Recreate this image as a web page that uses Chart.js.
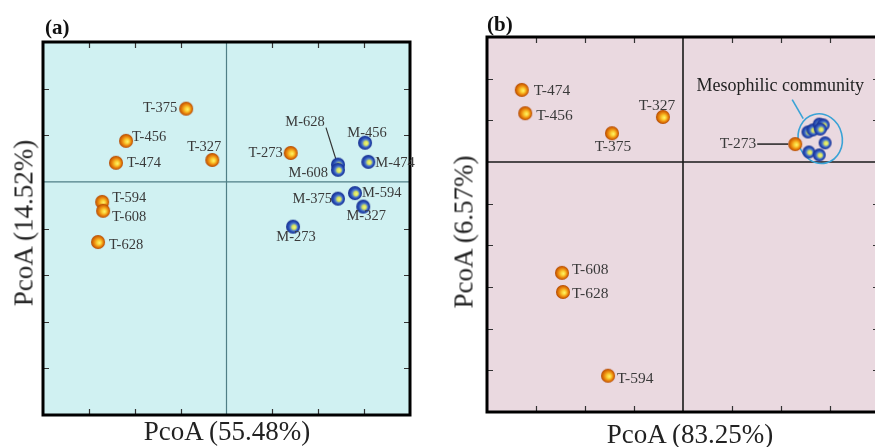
<!DOCTYPE html>
<html>
<head>
<meta charset="utf-8">
<script src="https://cdn.jsdelivr.net/npm/chart.js@4"></script>
<style>
  html,body{margin:0;padding:0;background:#fff}
  #wrap{position:relative;width:875px;height:447px;overflow:hidden;font-family:"Liberation Serif","Times New Roman",serif;color:#1a1a1a}
  canvas{position:absolute;top:0}
  .t{position:absolute;white-space:nowrap;line-height:1}
  .panel{font-weight:bold;font-size:21px;color:#111}
  .ax{font-size:27px;color:#222}
  .rot{transform:translate(-50%,-50%) rotate(-90deg)}
  .hc{transform:translate(-50%,0)}
</style>
</head>
<body>
<div id="wrap">
  <canvas id="chartA" width="440" height="447" style="left:0"></canvas>
  <canvas id="chartB" width="440" height="447" style="left:440px"></canvas>
  <div class="t panel" style="left:45px;top:17px">(a)</div>
  <div class="t panel" style="left:487px;top:14px">(b)</div>
  <div class="t ax hc" style="left:227px;top:418px">PcoA (55.48%)</div>
  <div class="t ax hc" style="left:690px;top:421px">PcoA (83.25%)</div>
  <div class="t ax rot" style="left:24px;top:223px">PcoA (14.52%)</div>
  <div class="t ax rot" style="left:464px;top:232px">PcoA (6.57%)</div>
</div>
<script>
// panel (a) - all samples
const tLabelsA = ['T-375','T-456','T-474','T-327','T-273','T-594','T-608','T-628'];
const tXA = [-0.88,-2.19,-2.41,-0.31,1.40,-2.71,-2.69,-2.80];
const tYA = [1.57,0.88,0.41,0.47,0.62,-0.43,-0.62,-1.29];
const mLabelsA = ['M-628','M-608','M-456','M-474','M-594','M-375','M-327','M-273'];
const mXA = [2.43,2.43,3.02,3.09,2.80,2.43,2.98,1.45];
const mYA = [0.37,0.26,0.84,0.43,-0.24,-0.36,-0.53,-0.96];

// panel (b) - thermophilic samples + mesophilic cluster
const tLabelsB = ['T-474','T-456','T-327','T-375','T-273','T-608','T-628','T-594'];
const tXB = [-3.29,-3.22,-0.41,-1.45,2.29,-2.47,-2.45,-1.53];
const tYB = [1.73,1.17,1.08,0.69,0.43,-2.66,-3.12,-5.13];
const mXB = [2.55,2.65,2.78,2.86,2.80,2.90,2.57,2.78];
const mYB = [0.72,0.77,0.91,0.89,0.79,0.46,0.24,0.17];

// label placement (dx, dy in px from the point, text align)
const placeTA = [[-9,0,'right'],[6,-4,'left'],[11,0,'left'],[-8,-13,'center'],[-8,0,'right'],[10,-4,'left'],[9,6,'left'],[11,3,'left']];
const placeMA = [[-33,-42,'center'],[-10,3,'right'],[2,-10,'center'],[7,1,'left'],[7,0,'left'],[-6,1,'right'],[3,10,'center'],[3,11,'center']];
const placeTB = [[12,1,'left'],[11,3,'left'],[-6,-11,'center'],[1,14,'center'],[-39,0,'right'],[10,-3,'left'],[9,2,'left'],[9,3,'left']];

function sphere(r, stops){
  const c = document.createElement('canvas');
  c.width = c.height = 2*r+2;
  const g = c.getContext('2d');
  const cx = r+1;
  const grad = g.createRadialGradient(cx+r*0.22, cx+r*0.12, 0, cx, cx, r);
  stops.forEach(s=>grad.addColorStop(s[0], s[1]));
  g.fillStyle = grad;
  g.beginPath(); g.arc(cx,cx,r,0,Math.PI*2); g.fill();
  return c;
}
const orangeStops = [[0,'#fff46e'],[0.3,'#fbd035'],[0.62,'#ec8c10'],[0.9,'#c85a00'],[1,'#a84000']];
const blueStops = [[0,'#f6f680'],[0.3,'#d6e25c'],[0.5,'#5a86c8'],[0.7,'#2a50b8'],[1,'#142c8c']];

function pts(xs, ys){ return xs.map((x,i)=>({x:x, y:ys[i]})); }

function pcoaPlugin(cfg){
  return {
    id: 'pcoa',
    beforeDraw(chart){
      const a = chart.chartArea, ctx = chart.ctx;
      ctx.save();
      ctx.fillStyle = cfg.bg;
      ctx.fillRect(a.left, a.top, a.right-a.left, a.bottom-a.top);
      const xs = chart.scales.x, ys = chart.scales.y;
      // zero lines
      ctx.strokeStyle = cfg.zeroColor; ctx.lineWidth = cfg.zeroWidth;
      const x0 = xs.getPixelForValue(0), y0 = ys.getPixelForValue(0);
      ctx.beginPath();
      ctx.moveTo(x0, a.top); ctx.lineTo(x0, a.bottom);
      ctx.moveTo(a.left, y0); ctx.lineTo(a.right, y0);
      ctx.stroke();
      // inward ticks
      ctx.strokeStyle = '#333'; ctx.lineWidth = 1.2;
      ctx.beginPath();
      for(let v=Math.ceil(xs.min); v<=Math.floor(xs.max); v++){
        if(v===0 || v===xs.min || v===xs.max) continue;
        const px = Math.round(xs.getPixelForValue(v))+0.5;
        ctx.moveTo(px, a.top); ctx.lineTo(px, a.top+6);
        ctx.moveTo(px, a.bottom); ctx.lineTo(px, a.bottom-6);
      }
      for(let v=Math.ceil(ys.min); v<=Math.floor(ys.max); v++){
        if(v===0 || v===ys.min || v===ys.max) continue;
        const py = Math.round(ys.getPixelForValue(v))+0.5;
        ctx.moveTo(a.left, py); ctx.lineTo(a.left+6, py);
        ctx.moveTo(a.right, py); ctx.lineTo(a.right-6, py);
      }
      ctx.stroke();
      if(cfg.extra) cfg.extra(chart, ctx);
      ctx.restore();
    },
    afterDraw(chart){
      const a = chart.chartArea, ctx = chart.ctx;
      ctx.save();
      ctx.strokeStyle = '#000'; ctx.lineWidth = 3;
      ctx.strokeRect(a.left, a.top, a.right-a.left, a.bottom-a.top);
      ctx.font = cfg.font;
      ctx.fillStyle = '#3a3a3a';
      ctx.textBaseline = 'middle';
      cfg.labels.forEach(set=>{
        const meta = chart.getDatasetMeta(set.ds);
        set.text.forEach((txt,i)=>{
          const el = meta.data[i];
          const p = set.place[i];
          ctx.textAlign = p[2];
          ctx.fillText(txt, el.x+p[0], el.y+p[1]);
        });
      });
      ctx.restore();
    }
  };
}

function makeChart(id, opt){
  return new Chart(document.getElementById(id), {
    type: 'scatter',
    data: {datasets: [
      {data: pts(opt.tx, opt.ty), pointStyle: sphere(opt.rT, orangeStops), pointRadius: opt.rT},
      {data: pts(opt.mx, opt.my), pointStyle: sphere(opt.rM, blueStops), pointRadius: opt.rM}
    ]},
    options: {
      responsive: false, animation: false, devicePixelRatio: 1,
      layout: {padding: opt.pad, autoPadding: false},
      plugins: {legend: {display: false}, tooltip: {enabled: false}},
      scales: {
        x: {type: 'linear', min: opt.xr[0], max: opt.xr[1], display: false},
        y: {type: 'linear', min: opt.yr[0], max: opt.yr[1], display: false}
      }
    },
    plugins: [pcoaPlugin(opt.plug)]
  });
}

makeChart('chartA', {
  tx: tXA, ty: tYA, mx: mXA, my: mYA, rT: 7, rM: 7,
  pad: {left: 43, top: 42, right: 30, bottom: 32},
  xr: [-4, 4], yr: [-5, 3],
  plug: {
    bg: '#d0f1f2', zeroColor: '#4f7f86', zeroWidth: 1.2,
    font: '14.5px "Liberation Serif", "Times New Roman", serif',
    labels: [{ds: 0, text: tLabelsA, place: placeTA}, {ds: 1, text: mLabelsA, place: placeMA}],
    extra(chart, ctx){
      // leader for M-628
      const el = chart.getDatasetMeta(1).data[0];
      ctx.strokeStyle = '#333'; ctx.lineWidth = 1.2;
      ctx.beginPath(); ctx.moveTo(el.x-12, el.y-37); ctx.lineTo(el.x-1, el.y-2); ctx.stroke();
    }
  }
});

makeChart('chartB', {
  tx: tXB, ty: tYB, mx: mXB, my: mYB, rT: 7, rM: 6.5,
  pad: {left: 47, top: 37, right: 1, bottom: 35},
  xr: [-4, 4], yr: [-6, 3],
  plug: {
    bg: '#ead9e0', zeroColor: '#1a1a1a', zeroWidth: 1.6,
    font: '15.5px "Liberation Serif", "Times New Roman", serif',
    labels: [{ds: 0, text: tLabelsB, place: placeTB}],
    extra(chart, ctx){
      const xs = chart.scales.x, ys = chart.scales.y;
      // leader for T-273
      const t = chart.getDatasetMeta(0).data[4];
      ctx.strokeStyle = '#222'; ctx.lineWidth = 1.5;
      ctx.beginPath(); ctx.moveTo(t.x-38, t.y); ctx.lineTo(t.x-7, t.y); ctx.stroke();
      // ellipse around mesophilic cluster
      const cx = xs.getPixelForValue(2.8), cy = ys.getPixelForValue(0.56);
      ctx.strokeStyle = '#3aa3d6'; ctx.lineWidth = 1.6;
      ctx.beginPath(); ctx.ellipse(cx, cy, 22, 25, -0.25, 0, Math.PI*2); ctx.stroke();
      ctx.beginPath(); ctx.moveTo(cx-17, cy-20); ctx.lineTo(cx-28, cy-39); ctx.stroke();
      ctx.font = '18px "Liberation Serif", "Times New Roman", serif';
      ctx.fillStyle = '#222'; ctx.textAlign = 'center'; ctx.textBaseline = 'middle';
      ctx.fillText('Mesophilic community', cx-40, cy-52);
    }
  }
});
</script>
</body>
</html>
